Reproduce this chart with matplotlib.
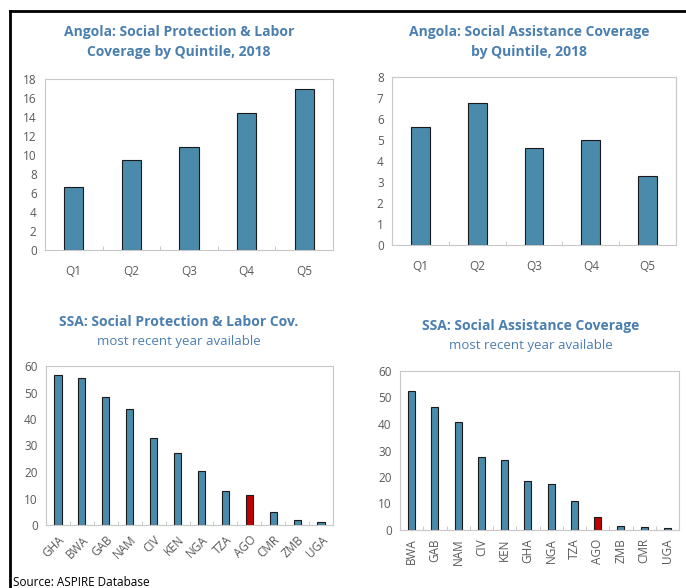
import matplotlib
matplotlib.use("Agg")
import matplotlib.pyplot as plt
import numpy as np

plt.rcParams['font.family'] = ['Open Sans', 'DejaVu Sans']

quintiles = ['Q1', 'Q2', 'Q3', 'Q4', 'Q5']
spl_quint = [6.6, 9.5, 10.8, 14.4, 16.9]
sa_quint = [5.6, 6.75, 4.6, 5.0, 3.3]

spl_countries = ['GHA', 'BWA', 'GAB', 'NAM', 'CIV', 'KEN', 'NGA', 'TZA', 'AGO', 'CMR', 'ZMB', 'UGA']
spl_values = [56.6, 55.4, 48.3, 43.6, 32.7, 27.2, 20.5, 12.7, 11.5, 4.8, 2.0, 1.3]

sa_countries = ['BWA', 'GAB', 'NAM', 'CIV', 'KEN', 'GHA', 'NGA', 'TZA', 'AGO', 'ZMB', 'CMR', 'UGA']
sa_values = [52.3, 46.5, 40.7, 27.4, 26.6, 18.4, 17.2, 10.9, 5.0, 1.5, 1.1, 0.7]

blue = '#4a8aab'
red = '#c00000'
title_col = '#4a7fb0'
grey = '#595959'

fig = plt.figure(figsize=(6.86, 5.88), dpi=100)

# outer frame (top and left edges)
fig.add_artist(plt.Line2D([10/686, 1], [1-11/588, 1-11/588], color='black', lw=2))
fig.add_artist(plt.Line2D([10/686, 10/686], [0, 1-11/588], color='black', lw=2))


def style(ax, labels, ymax, step, rot=0):
    n = len(labels)
    ax.set_xlim(-0.5, n - 0.5)
    ax.set_ylim(0, ymax)
    ax.set_yticks(np.arange(0, ymax + step / 2, step))
    ax.set_xticks(range(n))
    if rot == 45:
        ax.set_xticklabels(labels, rotation=45, ha='right', rotation_mode='anchor')
    elif rot == 90:
        ax.set_xticklabels(labels, rotation=90)
    else:
        ax.set_xticklabels(labels)
    ax.set_xticks(np.arange(0.5, n - 0.5, 1), minor=True)
    ax.tick_params(axis='x', which='major', length=0, pad=11, labelsize=8.5, labelcolor=grey)
    ax.tick_params(axis='x', which='minor', length=3, direction='in', color='#bfbfbf')
    ax.tick_params(axis='y', length=0, pad=6, labelsize=8.5, labelcolor=grey)
    for s in ax.spines.values():
        s.set_color('#c8c8c8')


# top left
ax1 = fig.add_axes([45/686, 1-250/588, 288/686, 171/588])
ax1.bar(quintiles, spl_quint, width=0.33, color=blue, edgecolor='#1a1a1a', lw=0.8)
style(ax1, quintiles, 18, 2)
fig.text(179/686, 1-32/588, 'Angola: Social Protection & Labor', ha='center', va='center',
         fontsize=10, fontweight='bold', color=title_col)
fig.text(179/686, 1-52/588, 'Coverage by Quintile, 2018', ha='center', va='center',
         fontsize=10, fontweight='bold', color=title_col)

# top right
ax2 = fig.add_axes([392/686, 1-245/588, 284/686, 168/588])
ax2.bar(quintiles, sa_quint, width=0.33, color=blue, edgecolor='#1a1a1a', lw=0.8)
style(ax2, quintiles, 8, 1)
fig.text(529/686, 1-32/588, 'Angola: Social Assistance Coverage', ha='center', va='center',
         fontsize=10, fontweight='bold', color=title_col)
fig.text(529/686, 1-52/588, 'by Quintile, 2018', ha='center', va='center',
         fontsize=10, fontweight='bold', color=title_col)

# bottom left
ax3 = fig.add_axes([46/686, 1-525/588, 287/686, 159/588])
cols3 = [red if c == 'AGO' else blue for c in spl_countries]
ax3.bar(spl_countries, spl_values, width=0.3, color=cols3, edgecolor='#1a1a1a', lw=0.8)
style(ax3, spl_countries, 60, 10, rot=45)
ax3.tick_params(axis='x', which='major', pad=6)
fig.text(179/686, 1-322/588, 'SSA: Social Protection & Labor Cov.', ha='center', va='center',
         fontsize=10, fontweight='bold', color=title_col)
fig.text(179/686, 1-341/588, 'most recent year available', ha='center', va='center',
         fontsize=9.5, color=title_col)

# bottom right
ax4 = fig.add_axes([400/686, 1-530/588, 279/686, 159/588])
cols4 = [red if c == 'AGO' else blue for c in sa_countries]
ax4.bar(sa_countries, sa_values, width=0.3, color=cols4, edgecolor='#1a1a1a', lw=0.8)
style(ax4, sa_countries, 60, 10, rot=90)
ax4.tick_params(axis='x', which='major', pad=6)
fig.text(531/686, 1-326/588, 'SSA: Social Assistance Coverage', ha='center', va='center',
         fontsize=10, fontweight='bold', color=title_col)
fig.text(531/686, 1-346/588, 'most recent year available', ha='center', va='center',
         fontsize=9.5, color=title_col)

fig.text(13/686, 1-582/588, 'Source: ASPIRE Database', ha='left', va='center', fontsize=8.5, color='black')

fig.savefig('out.png', dpi=100)
